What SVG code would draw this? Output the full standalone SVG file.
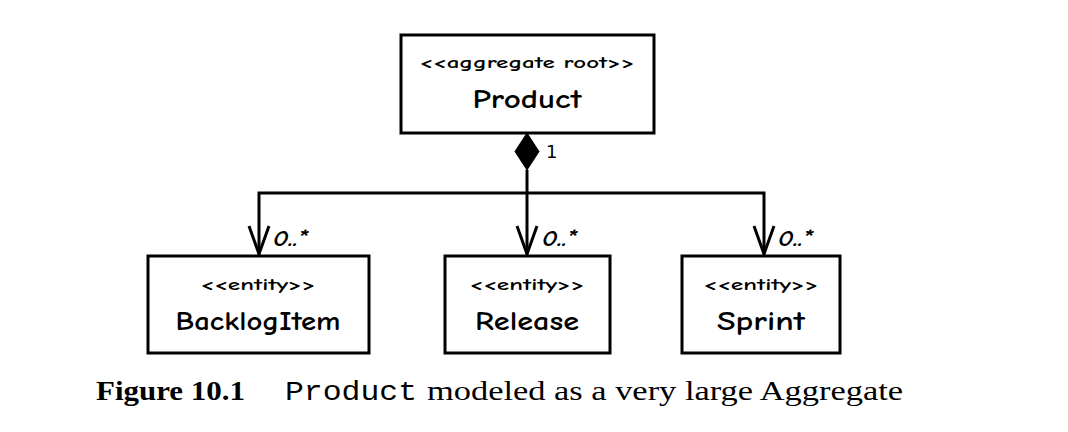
<svg xmlns="http://www.w3.org/2000/svg" width="1068" height="432" viewBox="0 0 1068 432">
<defs>
<style>
.box{fill:#fff;stroke:#000;stroke-width:3}
.line{fill:none;stroke:#000;stroke-width:3}
.head{fill:none;stroke:#000;stroke-width:3;stroke-linejoin:miter}
.st{font-family:"Comic Neue","DejaVu Sans",sans-serif;font-size:16px;font-weight:bold;text-anchor:middle;fill:#000}
.nm{font-family:"Comic Neue","DejaVu Sans",sans-serif;font-size:26px;font-weight:bold;text-anchor:middle;fill:#000}
.mul{font-family:"Comic Neue","DejaVu Sans",sans-serif;font-size:22px;font-style:italic;font-weight:bold;fill:#000}
.one{font-family:"DejaVu Sans",sans-serif;font-size:18px;fill:#000}
.cap{font-family:"Liberation Serif",serif;font-size:27px;fill:#000}
.mono{font-family:"Liberation Mono",monospace;font-size:27px;fill:#000}
</style>
<path id="arrow" class="head" d="M-10 -30 L0 -2 L10 -30"/>
</defs>
<rect width="1068" height="432" fill="#fff"/>
<g id="connectors">
<path class="line" d="M527 170 V193"/>
<path class="line" d="M259 254 V193 H764 V254"/>
<path class="line" d="M527 193 V254"/>
<use href="#arrow" x="259" y="256"/>
<use href="#arrow" x="527" y="256"/>
<use href="#arrow" x="764" y="256"/>
<path d="M527 133 L539 151.5 L527 170 L515 151.5 Z" fill="#000" stroke="#000" stroke-width="1"/>
<text class="one" x="546" y="158">1</text>
<text class="mul" x="273" y="246" textLength="35" lengthAdjust="spacingAndGlyphs">0..*</text>
<text class="mul" x="542" y="246" textLength="35" lengthAdjust="spacingAndGlyphs">0..*</text>
<text class="mul" x="778" y="246" textLength="35" lengthAdjust="spacingAndGlyphs">0..*</text>
</g>
<g id="product">
<rect class="box" x="401" y="35" width="253" height="98"/>
<text class="st" x="527" y="68" textLength="215" lengthAdjust="spacingAndGlyphs">&lt;&lt;aggregate root&gt;&gt;</text>
<text class="nm" x="527" y="108" textLength="109" lengthAdjust="spacingAndGlyphs">Product</text>
</g>
<g id="backlogitem">
<rect class="box" x="148" y="256" width="221" height="97"/>
<text class="st" x="258" y="290" textLength="115" lengthAdjust="spacingAndGlyphs">&lt;&lt;entity&gt;&gt;</text>
<text class="nm" x="258" y="330" textLength="165" lengthAdjust="spacingAndGlyphs">BacklogItem</text>
</g>
<g id="release">
<rect class="box" x="445" y="256" width="165" height="97"/>
<text class="st" x="527" y="290" textLength="115" lengthAdjust="spacingAndGlyphs">&lt;&lt;entity&gt;&gt;</text>
<text class="nm" x="527" y="330" textLength="104" lengthAdjust="spacingAndGlyphs">Release</text>
</g>
<g id="sprint">
<rect class="box" x="682" y="256" width="158" height="97"/>
<text class="st" x="761" y="290" textLength="115" lengthAdjust="spacingAndGlyphs">&lt;&lt;entity&gt;&gt;</text>
<text class="nm" x="761" y="330" textLength="88" lengthAdjust="spacingAndGlyphs">Sprint</text>
</g>
<g id="caption">
<text class="cap" x="96" y="400" font-weight="bold" textLength="149" lengthAdjust="spacingAndGlyphs">Figure 10.1</text>
<text class="mono" x="285" y="400" textLength="132" lengthAdjust="spacingAndGlyphs">Product</text>
<text class="cap" x="427" y="400" textLength="476" lengthAdjust="spacingAndGlyphs">modeled as a very large Aggregate</text>
</g>
</svg>
